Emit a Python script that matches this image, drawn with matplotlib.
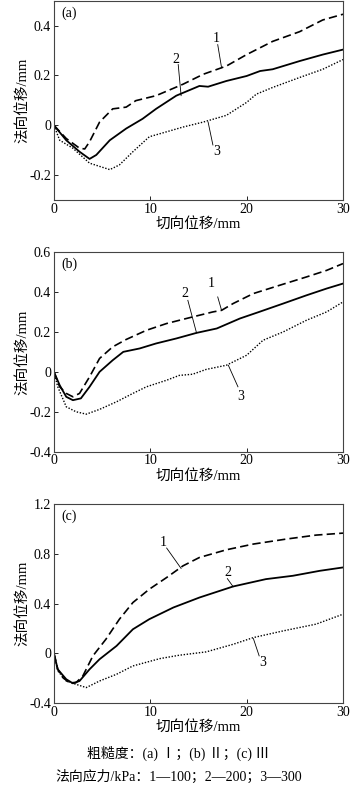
import matplotlib
matplotlib.use("Agg")
import matplotlib.pyplot as plt

plt.rcParams['font.family'] = ['Liberation Serif', 'Noto Sans CJK SC']
plt.rcParams['axes.unicode_minus'] = False

# panel (a)
a1_x = [0, 1.28, 2.66, 3.2, 3.7, 4.74, 6.1, 7.5, 8.5, 10.6, 13.4, 15.5, 17.9, 20, 22.7, 25.5, 27.9, 30]
a1_y = [0, -0.053, -0.092, -0.095, -0.066, 0.013, 0.066, 0.073, 0.099, 0.119, 0.165, 0.205, 0.238, 0.284, 0.337, 0.376, 0.423, 0.446]
a2_x = [0, 1.28, 2.66, 3.7, 4.4, 5.8, 7.5, 9.2, 10.6, 12.7, 15.1, 16.0, 17.9, 20, 21.4, 22.7, 25.5, 27.9, 30]
a2_y = [0, -0.06, -0.106, -0.135, -0.119, -0.06, -0.013, 0.026, 0.066, 0.119, 0.158, 0.155, 0.178, 0.198, 0.218, 0.225, 0.258, 0.284, 0.304]
a3_x = [0, 0.6, 1.97, 3.7, 5.8, 6.8, 8.2, 9.9, 11.7, 13.4, 15.5, 17.9, 20, 21, 22.7, 25.5, 27.9, 30]
a3_y = [0, -0.06, -0.092, -0.152, -0.178, -0.159, -0.106, -0.046, -0.026, -0.007, 0.013, 0.04, 0.092, 0.125, 0.152, 0.192, 0.225, 0.264]

# panel (b)
b1_x = [0, 0.6, 1.28, 1.97, 2.66, 3.7, 4.74, 6.1, 7.5, 9.6, 11.7, 14.4, 16.5, 17.4, 18.6, 20.7, 23.4, 26.2, 28.3, 30]
b1_y = [0, -0.075, -0.108, -0.125, -0.108, -0.025, 0.067, 0.125, 0.162, 0.208, 0.242, 0.275, 0.3, 0.308, 0.342, 0.392, 0.433, 0.475, 0.508, 0.542]
b2_x = [0, 0.6, 1.28, 1.97, 2.8, 3.7, 4.74, 6.1, 7.2, 8.9, 10.6, 12.7, 14.8, 16.9, 19.3, 21.3, 23.8, 26.2, 28.3, 30]
b2_y = [0, -0.067, -0.125, -0.142, -0.133, -0.075, 0, 0.058, 0.1, 0.117, 0.142, 0.167, 0.195, 0.217, 0.267, 0.3, 0.342, 0.383, 0.417, 0.442]
b3_x = [0, 0.4, 1.28, 2.3, 3.36, 4.74, 6.5, 8.2, 9.6, 11.7, 13, 14.4, 15.8, 17.9, 20, 21.7, 23.8, 26.2, 28.3, 30]
b3_y = [0, -0.075, -0.175, -0.2, -0.212, -0.188, -0.15, -0.108, -0.075, -0.042, -0.018, -0.012, 0.012, 0.033, 0.083, 0.158, 0.2, 0.258, 0.3, 0.35]

# panel (c)
c1_x = [0, 0.4, 0.93, 1.6, 2.3, 3.0, 4.05, 5.4, 6.8, 8.2, 9.9, 11.7, 13.4, 15.1, 17.9, 20.7, 24.1, 27.2, 30]
c1_y = [0, -0.129, -0.196, -0.236, -0.236, -0.183, -0.021, 0.113, 0.274, 0.408, 0.515, 0.609, 0.703, 0.77, 0.832, 0.878, 0.918, 0.95, 0.966]
c2_x = [0, 0.4, 1.28, 1.97, 2.66, 3.7, 4.74, 6.5, 8.2, 9.9, 12.4, 15.1, 18.6, 22, 24.8, 27.6, 30]
c2_y = [0, -0.129, -0.209, -0.242, -0.223, -0.129, -0.048, 0.059, 0.193, 0.274, 0.368, 0.448, 0.537, 0.596, 0.623, 0.663, 0.69]
c3_x = [0, 0.4, 1.28, 2.3, 3.36, 4.74, 6.5, 8.2, 11, 13, 15.8, 18.6, 20.7, 23.8, 27.2, 30]
c3_y = [0, -0.142, -0.223, -0.25, -0.276, -0.223, -0.169, -0.102, -0.043, -0.016, 0.011, 0.072, 0.126, 0.18, 0.234, 0.314]

panels = [
    ("(a)", [(a1_x, a1_y), (a2_x, a2_y), (a3_x, a3_y)], (-0.3, 0.5), [-0.2, 0, 0.2, 0.4],
     [("1", (16.8, 0.35), (17.0, 0.324), (17.4, 0.231)),
      ("2", (12.7, 0.264), (12.9, 0.244), (13.2, 0.119)),
      ("3", (16.9, -0.106), (16.5, -0.079), (16.0, 0.013))]),
    ("(b)", [(b1_x, b1_y), (b2_x, b2_y), (b3_x, b3_y)], (-0.4, 0.6), [-0.4, -0.2, 0, 0.2, 0.4, 0.6],
     [("1", (16.3, 0.442), (17.0, 0.375), (17.4, 0.308)),
      ("2", (13.6, 0.392), (13.9, 0.358), (14.8, 0.195)),
      ("3", (19.4, -0.125), (19.1, -0.075), (18.1, 0.033))]),
    ("(c)", [(c1_x, c1_y), (c2_x, c2_y), (c3_x, c3_y)], (-0.4, 1.2), [-0.4, 0, 0.4, 0.8, 1.2],
     [("1", (11.3, 0.887), (11.7, 0.846), (13.2, 0.682)),
      ("2", (18.1, 0.65), (18.0, 0.6), (18.6, 0.535)),
      ("3", (21.7, -0.075), (21.3, -0.021), (20.7, 0.118))]),
]

styles = [dict(ls=(0, (5, 2.5)), lw=1.2), dict(ls='-', lw=1.3), dict(ls=(0, (1, 1.2)), lw=1.0)]
rects = [(0.154, 0.7465, 0.826, 0.2525), (0.154, 0.4275, 0.826, 0.2531), (0.154, 0.1090, 0.826, 0.2522)]


def fmt(v):
    if abs(v) < 1e-9:
        return "0"
    return "%.1f" % v


fig = plt.figure(figsize=(3.5, 7.89), dpi=100)
for rect, (tag, curves, ylim, yticks, notes) in zip(rects, panels):
    ax = fig.add_axes(rect)
    for (x, y), st in zip(curves, styles):
        ax.plot(x, y, color='black', **st)
    ax.set_xlim(0, 30)
    ax.set_ylim(*ylim)
    ax.set_xticks([0, 10, 20, 30])
    ax.set_yticks(yticks)
    ax.set_yticklabels([fmt(v) for v in yticks])
    ax.tick_params(direction='in', length=3, width=0.6, labelsize=10, pad=2)
    for s in ax.spines.values():
        s.set_color('#444444')
        s.set_linewidth(0.8)
    ax.text(0.025, 0.97, tag, transform=ax.transAxes, ha='left', va='top', fontsize=10)
    for lab, tpos, p0, p1 in notes:
        ax.text(tpos[0], tpos[1], lab, ha='center', va='center', fontsize=10)
        ax.plot([p0[0], p1[0]], [p0[1], p1[1]], color='black', lw=0.6)
    ax.set_xlabel("切向位移/mm", fontsize=10.5, labelpad=1)
    ax.set_ylabel("法向位移/mm", fontsize=10.5, labelpad=0)

fig.text(0.51, 1 - 753 / 789, "粗糙度：(a) Ⅰ；(b) Ⅱ；(c) Ⅲ", ha='center', va='center', fontsize=10)
fig.text(0.51, 1 - 777 / 789, "法向应力/kPa：1—100；2—200；3—300", ha='center', va='center', fontsize=10)

fig.savefig("out.png", dpi=100)
